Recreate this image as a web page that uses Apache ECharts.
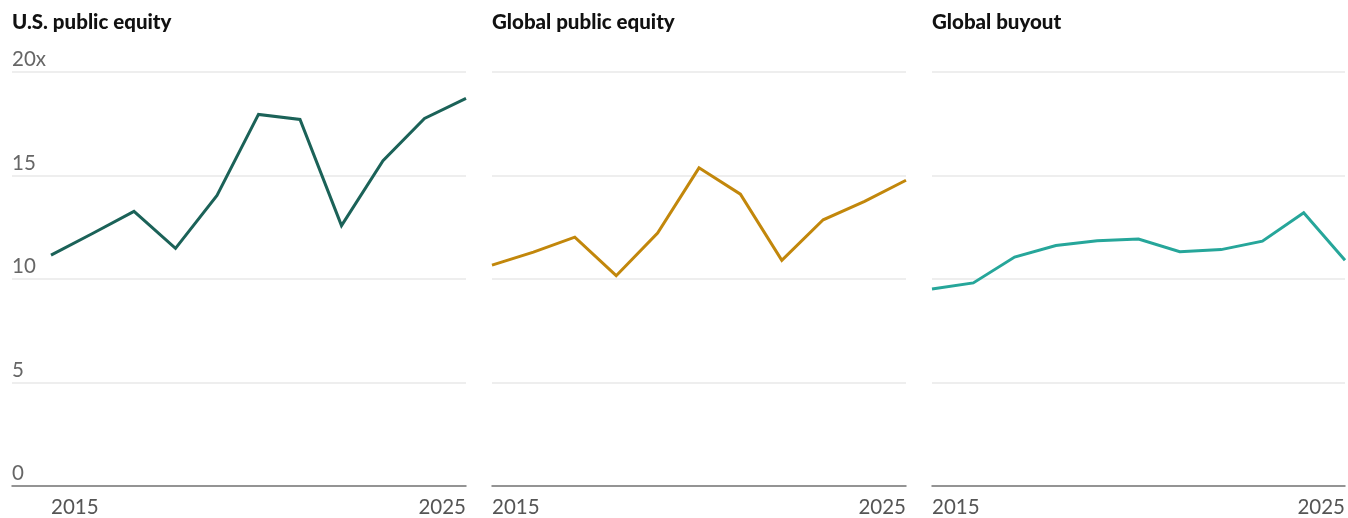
<!DOCTYPE html>
<html>
<head>
<meta charset="utf-8">
<script src="https://cdn.jsdelivr.net/npm/echarts@6/dist/echarts.min.js"></script>
<style>
html,body{margin:0;padding:0;background:#fff;}
#c{width:1348px;height:518px;}
</style>
</head>
<body>
<div id="c"></div>
<script>
const years = [2015,2016,2017,2018,2019,2020,2021,2022,2023,2024,2025];
const titles = ['U.S. public equity','Global public equity','Global buyout'];
const usEquity = [11.15,12.2,13.27,11.48,14.04,17.95,17.71,12.58,15.72,17.76,18.73];
const globalEquity = [10.67,11.3,12.02,10.16,12.22,15.37,14.1,10.9,12.86,13.75,14.77];
const globalBuyout = [9.52,9.81,11.06,11.62,11.85,11.93,11.32,11.42,11.83,13.2,10.91];
const yTicks = [0,5,10,15,20];
const xTickLabels = [2015,2025];
const colors = ['#1b6258','#c2870b','#26a69a'];
const seriesData = [usEquity, globalEquity, globalBuyout];

const chart = echarts.init(document.getElementById('c'));
const font = 'Lato, "Open Sans", sans-serif';
const grids = [
  {left:12, right:1348-466, top:72, bottom:518-487},
  {left:492, right:1348-906, top:72, bottom:518-487},
  {left:932, right:1, top:72, bottom:518-487}
];
const xMins = [2015 - 39/41.5, 2015, 2015];
const option = {
  animation:false,
  backgroundColor:'#fff',
  title: titles.map((t,i)=>({
    text:t, left: grids[i].left, top: 12, padding:0,
    textStyle:{fontFamily:font, fontWeight:900, fontSize:20.5, color:'#111'}
  })),
  grid: grids,
  xAxis: grids.map((g,i)=>({
    type:'value', gridIndex:i, min:xMins[i], max:2025,
    axisLine:{show:true, onZero:false, lineStyle:{color:'#777', width:1.5}},
    axisTick:{show:false},
    splitLine:{show:false},
    axisLabel:{
      customValues: xTickLabels,
      alignMinLabel:'left', alignMaxLabel:'right',
      showMinLabel:true, showMaxLabel:true,
      fontFamily:font, fontSize:20.5, color:'#555', margin:11,
      formatter: v => String(v)
    }
  })),
  yAxis: grids.map((g,i)=>({
    type:'value', gridIndex:i, min:0, max:20, interval:5,
    axisLine:{show:false}, axisTick:{show:false},
    splitLine:{show:true, lineStyle:{color:'#e8e8e8', width:1.5}},
    axisLabel:{
      show: i===0, inside:true, margin:0,
      verticalAlign:'bottom', padding:[0,0,2,0],
      fontFamily:font, fontSize:20.5, color:'#666',
      formatter: v => (v===20 ? v+'x' : String(v))
    }
  })),
  series: seriesData.map((d,i)=>({
    type:'line', xAxisIndex:i, yAxisIndex:i,
    data: years.map((y,k)=>[y,d[k]]),
    symbol:'none', clip:false,
    lineStyle:{color:colors[i], width:3, join:'miter'}
  }))
};
chart.setOption(option);
</script>
</body>
</html>
